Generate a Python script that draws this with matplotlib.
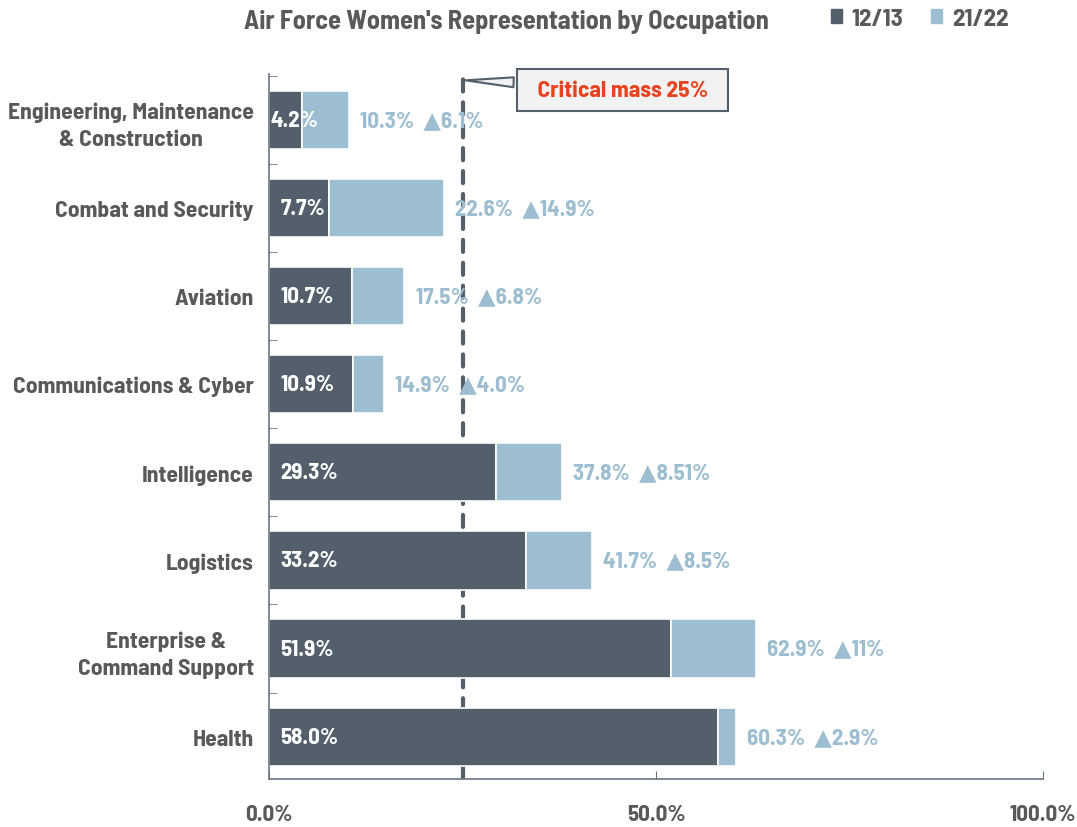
import matplotlib
matplotlib.use("Agg")
import matplotlib.pyplot as plt
from matplotlib.patches import Patch

# data
categories = ['Engineering, Maintenance\n& Construction', 'Combat and Security', 'Aviation',
              'Communications & Cyber', 'Intelligence', 'Logistics',
              'Enterprise &\nCommand Support', 'Health']
share_1213 = [4.2, 7.7, 10.7, 10.9, 29.3, 33.2, 51.9, 58.0]
share_2122 = [10.3, 22.6, 17.5, 14.9, 37.8, 41.7, 62.9, 60.3]
change_labels = ['6.1%', '14.9%', '6.8%', '4.0%', '8.51%', '8.5%', '11%', '2.9%']
xticks = [0, 50, 100]
critical_mass = 25

DARK = '#535f6b'
LIGHT = '#9dbdd0'
GRAY = '#595959'
AXIS = '#6b7680'

plt.rcParams['font.family'] = ['Barlow Semi Condensed', 'DejaVu Sans']
plt.rcParams['font.weight'] = 'bold'

fig = plt.figure(figsize=(10.77, 8.28), dpi=100)
ax = fig.add_axes([0.2498, 0.058, 0.7186, 0.8514])

y = list(range(len(categories)))
widths_new = [n - o for o, n in zip(share_1213, share_2122)]

# critical mass line sits behind the bars
ax.axvline(critical_mass, color=DARK, lw=3, linestyle=(0, (2.9, 2.6)),
           dash_capstyle='round', zorder=1)
ax.barh(y, share_1213, height=0.66, color=DARK, edgecolor='white', linewidth=1.2, zorder=2)
ax.barh(y, widths_new, left=share_1213, height=0.66, color=LIGHT,
        edgecolor='white', linewidth=1.2, zorder=2)

for i in y:
    pad = 1 if share_1213[i] < 5 else 8
    ax.annotate(f'{share_1213[i]:.1f}%', (0, i), xytext=(pad, 0), textcoords='offset points',
                ha='left', va='center', color='white', fontsize=16.5, zorder=3)
    ax.annotate(f'{share_2122[i]:.1f}%  \u25B2{change_labels[i]}', (share_2122[i], i),
                xytext=(8, 0), textcoords='offset points', ha='left', va='center',
                color=LIGHT, fontsize=16.5, zorder=3)

ax.set_xlim(0, 100)
ax.set_ylim(7.48, -0.52)
ax.set_xticks(xticks)
ax.set_xticklabels([f'{v:.1f}%' for v in xticks])
ax.set_yticks(y)
ax.set_yticklabels(categories, multialignment='center', linespacing=1.45)
ax.set_yticks([i - 0.5 for i in y], minor=True)
ax.tick_params(axis='y', which='major', length=0, pad=11, labelsize=17, labelcolor=GRAY)
ax.tick_params(axis='y', which='minor', direction='in', length=6, color=AXIS)
ax.tick_params(axis='x', direction='in', length=6, color=AXIS, pad=18,
               labelsize=16.5, labelcolor=GRAY)
for side in ['top', 'right']:
    ax.spines[side].set_visible(False)
for side in ['left', 'bottom']:
    ax.spines[side].set_color(AXIS)
    ax.spines[side].set_linewidth(1.2)

ax.annotate('  Critical mass 25%  ', xy=(critical_mass, -0.45), xytext=(45.7, -0.34),
            ha='center', va='center', color='#e8431e', fontsize=17,
            bbox=dict(boxstyle='square,pad=0.45', fc='#f2f2f2', ec=DARK, lw=1.5),
            arrowprops=dict(arrowstyle='wedge,tail_width=0.42', fc='#f2f2f2', ec=DARK, lw=1.5,
                            relpos=(0, 0.85)),
            annotation_clip=False, zorder=4)

fig.text(0.47, 0.974, "Air Force Women's Representation by Occupation", ha='center', va='center',
         fontsize=19, color=GRAY)
handles = [Patch(color=DARK), Patch(color=LIGHT)]
fig.legend(handles, ['12/13', '21/22'], loc='center', bbox_to_anchor=(0.854, 0.976), ncol=2,
           frameon=False, handlelength=0.45, handleheight=0.45, handletextpad=0.4,
           columnspacing=1.1, prop={'size': 18, 'weight': 'bold'}, labelcolor=GRAY)

fig.savefig('out.png', dpi=100)
